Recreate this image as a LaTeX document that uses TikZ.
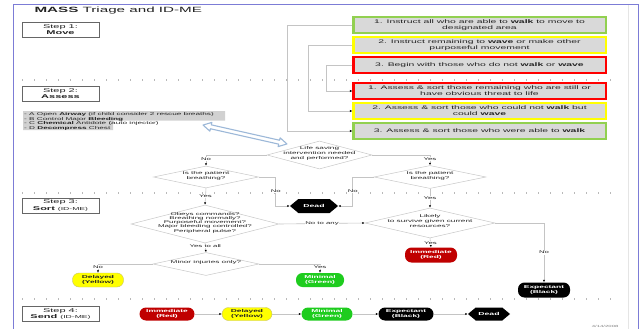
\documentclass[tikz,border=0pt]{standalone}
\usepackage{fontspec}
\setmainfont{Liberation Sans}[FakeStretch=2.0]
\usetikzlibrary{shapes.geometric,shapes.symbols,arrows.meta,calc}

\definecolor{framecol}{HTML}{7C7CD6}
\definecolor{boxgray}{HTML}{D9D9D9}
\definecolor{bgreen}{HTML}{92D050}
\definecolor{byellow}{HTML}{FFFF00}
\definecolor{bred}{HTML}{FF0000}
\definecolor{pillred}{HTML}{C00000}
\definecolor{pillgreen}{HTML}{1ECC1E}
\definecolor{linegray}{HTML}{C4C4C4}
\definecolor{shapegray}{HTML}{C8C8C8}
\definecolor{arrowblue}{HTML}{9CB8D8}
\definecolor{txt}{HTML}{222222}

\newcommand\fs[2]{\fontsize{#1}{#2}\selectfont}
% centred multi-line text that takes no room, so a shape keeps its set size
\newcommand\ztext[1]{\makebox[0pt][c]{\smash{\begin{tabular}[c]{@{}c@{}}#1\end{tabular}}}}

\tikzset{
  mvbox/.style={rectangle, fill=boxgray, draw=#1, line width=1.3pt,
    minimum width=253pt, minimum height=16pt, inner sep=0pt, align=center,
    font=\fs{5.2}{5.9}, text=txt},
  stepbox/.style={rectangle, draw=gray!80!black, line width=0.8pt, fill=white,
    minimum width=77pt, minimum height=15pt, inner sep=0pt, align=center,
    font=\fs{5.5}{6.2}, text=txt},
  dia/.style={diamond, draw=shapegray, line width=0.5pt, fill=white,
    inner sep=0pt, font=\fs{4.1}{4.9}, text=txt},
  pill/.style={rectangle, rounded corners=6.5pt, minimum height=14pt,
    inner sep=0pt, align=center, font=\fs{4.2}{4.9}\bfseries},
  deadbox/.style={signal, signal to=east and west, signal pointer angle=80,
    fill=black, text=white, inner sep=0pt, font=\fs{4.3}{5}\bfseries},
  conn/.style={draw=linegray, line width=0.6pt,
    -{Latex[length=2.4pt,width=2.2pt,color=black]}},
  lbl/.style={fill=white, inner sep=0.6pt, font=\fs{3.9}{4.5}, text=txt},
  dots/.style={draw=gray!55, line width=1.1pt, dash pattern=on 1.1pt off 10.9pt},
}

\begin{document}
\begin{tikzpicture}[x=1pt,y=-1pt]
\useasboundingbox (0,0) rectangle (643,329);
\fill[white] (0,0) rectangle (643,329);

% page frame
\draw[black!10] (628,5) -- (628,329);
\draw[framecol, line width=1pt] (13,329) -- (13,5) -- (638,5) -- (638,329);

% section separators
\draw[dots] (22,80) -- (620,80);
\draw[dots] (22,193) -- (620,193);
\draw[dots] (22,299) -- (620,299);

% title and step labels
\node[font=\fs{7.6}{9}, text=txt, anchor=west] (title) at (31,11) {\textbf{MASS} Triage and ID-ME};
\node[stepbox] (s1) at (60.5,29.5) {Step 1:\\\textbf{Move}};
\node[stepbox] (s2) at (60.5,94) {Step 2:\\\textbf{Assess}};
\node[stepbox] (s3) at (60.5,205.5) {Step 3:\\\textbf{Sort} {\fs{4.3}{5}(ID-ME)}};
\node[stepbox] (s4) at (60.5,314) {Step 4:\\\textbf{Send} {\fs{4.3}{5}(ID-ME)}};

% move and assess instructions
\node[mvbox=bgreen]  (m1) at (479.5,25)  {1. Instruct all who are able to \textbf{walk} to move to\\designated area};
\node[mvbox=byellow] (m2) at (479.5,45)  {2. Instruct remaining to \textbf{wave} or make other\\purposeful movement};
\node[mvbox=bred]    (m3) at (479.5,65)  {3. Begin with those who do not \textbf{walk} or \textbf{wave}};
\node[mvbox=bred]    (a1) at (479.5,91)  {1. Assess \& sort those remaining who are still or\\have obvious threat to life};
\node[mvbox=byellow] (a2) at (479.5,111) {2. Assess \& sort those who could not \textbf{walk} but\\could \textbf{wave}};
\node[mvbox=bgreen]  (a3) at (479.5,131) {3. Assess \& sort those who were able to \textbf{walk}};
\foreach \b/\c in {m1/bgreen,m2/byellow,m3/bred,a1/bred,a2/byellow,a3/bgreen}
  \draw[\c, line width=2.6pt] ($(\b.north west)+(1.2,0.6)$) -- ($(\b.south west)+(1.2,-0.6)$);

\draw[conn] (m1.west) -- ++(-65,0) |- (a3.west);
\draw[conn] (m2.west) -- ++(-44,0) |- (a2.west);
\draw[conn] (m3.west) -- ++(-26,0) |- (a1.west);

% life-saving interventions
\fill[black!18] (23,111) -- (225,111) -- (225,120.5) -- (113,120.5) -- (113,130) -- (23,130) -- cycle;
\node[anchor=north west, align=left, inner sep=0pt, font=\fs{4.1}{4.6}, text=txt] (abcd) at (24,112.3)
  {- A Open \textbf{Airway} (if child consider 2 rescue breaths)\\
   - B Control Major \textbf{Bleeding}\\
   - C \textbf{Chemical} Antidote (auto injector)\\
   - D \textbf{Decompress} Chest};

% decision diamonds
\node[dia, minimum width=105pt, minimum height=28pt] (life) at (319.5,155) {\ztext{Life saving\\intervention needed\\and performed?}};
\node[dia, minimum width=105pt, minimum height=22pt] (lb) at (206,177) {\ztext{Is the patient\\breathing?}};
\node[dia, minimum width=112pt, minimum height=23pt] (rb) at (430,177) {\ztext{Is the patient\\breathing?}};
\node[dia, minimum width=148pt, minimum height=38pt, font=\fs{4.0}{4.3}] (obey) at (205,224)
  {\ztext{Obeys commands?\\Breathing normally?\\Purposeful movement?\\Major bleeding controlled?\\Peripheral pulse?}};
\node[dia, minimum width=130pt, minimum height=30pt] (likely) at (430,223) {\ztext{Likely\\to survive given current\\resources?}};
\node[dia, minimum width=106pt, minimum height=23pt] (minor) at (206,264) {\ztext{Minor injuries only?}};

% hollow two-way arrow between the interventions and the first question
\begin{scope}[shift={(245,134.5)}, rotate=-12.7]
  \filldraw[draw=arrowblue, fill=white, line width=1.1pt, line join=round]
    (-43,0) -- (-35,4.5) -- (-35,2) -- (35,2) -- (35,4.5) -- (43,0)
    -- (35,-4.5) -- (35,-2) -- (-35,-2) -- (-35,-4.5) -- cycle;
\end{scope}

% sort outcomes
\node[deadbox, minimum width=48pt, minimum height=14pt] (dead1) at (314,206) {Dead};
\node[pill, fill=pillred, text=white, minimum width=52pt, minimum height=15pt] (imm1) at (431,255) {Immediate\\(Red)};
\node[pill, fill=black, text=white, minimum width=52pt, minimum height=15pt] (exp1) at (544,290) {Expectant\\(Black)};
\node[pill, fill=byellow, draw=olive!50, line width=0.4pt, text=txt, minimum width=51pt] (del1) at (98,280) {Delayed\\(Yellow)};
\node[pill, fill=pillgreen, text=white, minimum width=48pt] (min1) at (320,280) {Minimal\\(Green)};

% sort connectors
\draw[conn] (life.west) -| (lb.north) node[lbl, pos=0.68] {No};
\draw[conn] (life.east) -| (rb.north) node[lbl, pos=0.68] {Yes};
\draw[conn] (lb.east) -- ++(17,0) |- (dead1.west) node[lbl, pos=0.25] {No};
\draw[conn] (rb.west) -- ++(-21,0) |- (dead1.east) node[lbl, pos=0.25] {No};
\draw[conn] (lb.south) -- (obey.north) node[lbl, midway] {Yes};
\draw[conn] (rb.south) -- (likely.north) node[lbl, midway] {Yes};
\draw[conn] (obey.east) -- (likely.west) node[lbl, midway] {No to any};
\draw[conn] (obey.south) -- (minor.north) node[lbl, pos=0.3] {Yes to all};
\draw[conn] (minor.west) -| (del1.north) node[lbl, pos=0.67] {No};
\draw[conn] (minor.east) -| (min1.north) node[lbl, pos=0.67] {Yes};
\draw[conn] (likely.south) -- (imm1.north) node[lbl, midway] {Yes};
\draw[conn] (likely.east) -| (exp1.north) node[lbl, pos=0.75] {No};

% send order
\node[pill, fill=pillred, text=white, minimum width=55pt, minimum height=13pt] (imm2) at (167,314) {Immediate\\(Red)};
\node[pill, fill=byellow, draw=olive!50, line width=0.4pt, text=txt, minimum width=50pt, minimum height=13pt] (del2) at (247,314) {Delayed\\(Yellow)};
\node[pill, fill=pillgreen, text=white, minimum width=51pt, minimum height=13pt] (min2) at (327,314) {Minimal\\(Green)};
\node[pill, fill=black, text=white, minimum width=55pt, minimum height=13pt] (exp2) at (406,314) {Expectant\\(Black)};
\node[deadbox, minimum width=42pt, minimum height=13pt] (dead2) at (489,314) {Dead};
\draw[conn] (imm2) -- (del2);
\draw[conn] (del2) -- (min2);
\draw[conn] (min2) -- (exp2);
\draw[conn] (exp2) -- (dead2);

\node[font=\fs{3}{3.5}, text=gray, anchor=east] (date) at (622,326) {4/14/2008};
\end{tikzpicture}
\end{document}
